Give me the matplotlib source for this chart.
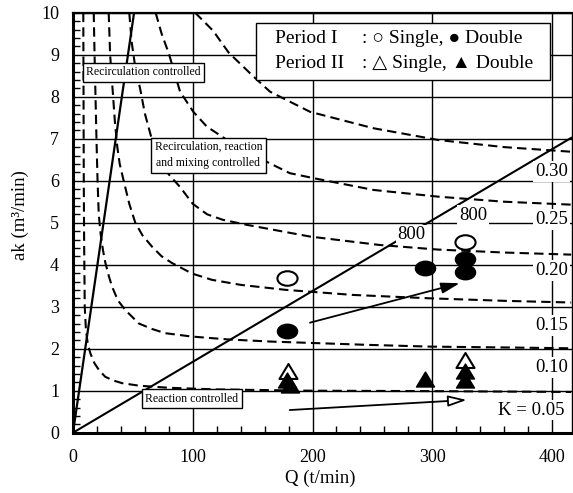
import matplotlib.pyplot as plt
from matplotlib.patches import Rectangle
from matplotlib.path import Path
from matplotlib.ticker import MultipleLocator

plt.rcParams['font.family'] = ['Liberation Serif', 'DejaVu Sans']

# iso-K curves (Q in t/min, ak in m3/min)
q_k05 = [8.6, 8.8, 9.0, 9.3, 9.8, 10.8, 12.3, 14.5, 18, 22, 27, 34, 41, 55, 80, 120, 200, 300, 416]
ak_k05 = [10, 8, 6, 4.5, 3.0, 2.45, 2.12, 1.89, 1.65, 1.48, 1.33, 1.24, 1.18, 1.12, 1.07, 1.03, 1.0, 0.99, 0.97]

q_k10 = [17.3, 18.0, 18.8, 19.6, 20.5, 21.5, 23, 25, 27, 30, 32.6, 37.5, 43.7, 55, 66, 77, 99, 130, 165, 248, 298, 360, 416]
ak_k10 = [10, 9.0, 8.0, 7.0, 6.0, 5.2, 4.75, 4.35, 4.05, 3.72, 3.48, 3.15, 2.92, 2.6, 2.47, 2.37, 2.29, 2.22, 2.17, 2.09, 2.05, 2.03, 2.01]

q_k15 = [29.8, 31, 33.5, 35, 37, 39, 42.3, 47, 52, 58, 66, 74, 82.7, 99.4, 116, 140, 178, 234, 298, 360, 416]
ak_k15 = [10, 9.0, 8.0, 7.4, 6.8, 6.4, 6.0, 5.45, 5.0, 4.7, 4.43, 4.2, 4.04, 3.79, 3.64, 3.52, 3.4, 3.28, 3.2, 3.14, 3.1]

q_k20 = [47, 49, 52, 56, 60, 65.7, 72, 80, 89.4, 100, 112, 125, 145, 198, 256, 305, 360, 416]
ak_k20 = [10, 9.3, 8.7, 8.2, 7.6, 7.0, 6.5, 6.15, 5.85, 5.45, 5.2, 5.07, 4.95, 4.67, 4.47, 4.36, 4.29, 4.24]

q_k25 = [69, 74, 80, 89.4, 100.5, 111.7, 135, 159, 181, 201, 251, 305, 360, 416]
ak_k25 = [10, 9.5, 9.03, 8.12, 7.64, 7.29, 6.85, 6.49, 6.18, 6.06, 5.78, 5.62, 5.5, 5.43]

q_k30 = [102, 109, 117, 130, 150, 164.5, 198, 250.8, 305, 360, 416]
ak_k30 = [10, 9.8, 9.57, 9.05, 8.5, 8.12, 7.64, 7.25, 6.97, 6.8, 6.69]

# boundary lines
q_steep = [0, 51]
ak_steep = [0, 10]
q_800 = [0, 416]
ak_800 = [0, 7.02]

# measurements
q_p1_single = [178.4, 327.3]
ak_p1_single = [3.68, 4.55]
q_p1_double = [178.4, 294, 327.3, 327.3]
ak_p1_double = [2.43, 3.93, 4.13, 3.83]
q_p2_single = [179.8, 327.3]
ak_p2_single = [1.47, 1.73]
q_p2_double = [179, 181, 294, 327.3, 327.3]
ak_p2_double = [1.25, 1.14, 1.29, 1.47, 1.25]

k_text = ['0.30', '0.25', '0.20', '0.15', '0.10', 'K = 0.05']
k_text_q = [399.7, 399.7, 399.7, 399.7, 399.7, 383]
k_text_ak = [6.22, 5.08, 3.87, 2.56, 1.55, 0.54]

fig = plt.figure(figsize=(5.73, 4.93), dpi=100)
ax = fig.add_axes([0.1274, 0.1223, 0.8709, 0.8519])

dash = (4.5, 2.5)
for q, ak in [(q_k05, ak_k05), (q_k10, ak_k10), (q_k15, ak_k15),
              (q_k20, ak_k20), (q_k25, ak_k25), (q_k30, ak_k30)]:
    ax.plot(q, ak, color='k', lw=1.5, dashes=dash)

ax.plot(q_steep, ak_steep, color='k', lw=1.6)
ax.plot(q_800, ak_800, color='k', lw=1.5)

# flattened markers like the scanned ones
ellipse = Path.unit_circle().transformed(
    plt.matplotlib.transforms.Affine2D().scale(1.0, 0.72))
tri = Path([(0, 0.83), (-1, -0.83), (1, -0.83), (0, 0.83)],
           [Path.MOVETO, Path.LINETO, Path.LINETO, Path.CLOSEPOLY])

ax.plot(q_p1_single, ak_p1_single, ls='none', marker=ellipse, ms=14.5,
        mfc='white', mec='k', mew=1.5, zorder=5)
ax.plot(q_p1_double, ak_p1_double, ls='none', marker=ellipse, ms=14.5,
        mfc='k', mec='k', zorder=5)
ax.plot(q_p2_single, ak_p2_single, ls='none', marker=tri, ms=13,
        mfc='white', mec='k', mew=1.5, zorder=5)
ax.plot(q_p2_double, ak_p2_double, ls='none', marker=tri, ms=13,
        mfc='k', mec='k', zorder=6)

# arrows
ax.annotate('', xy=(323, 3.56), xytext=(197.9, 2.62),
            arrowprops=dict(arrowstyle='-|>,head_length=0.75,head_width=0.22',
                            mutation_scale=15, lw=1.3, color='k',
                            shrinkA=0, shrinkB=0), zorder=4)
ax.annotate('', xy=(328.8, 0.78), xytext=(181, 0.54),
            arrowprops=dict(arrowstyle='-|>,head_length=0.75,head_width=0.22',
                            mutation_scale=15, lw=1.3, facecolor='white',
                            edgecolor='k', shrinkA=0, shrinkB=0), zorder=4)

# labels of the K curves
for t, x, y in zip(k_text, k_text_q, k_text_ak):
    ax.text(x, y, t, ha='center', va='center', fontsize=13.5, zorder=4,
            bbox=dict(boxstyle='square,pad=0.1', fc='white', ec='none'))

ax.text(282.8, 4.71, '800', ha='center', va='center', fontsize=13.5, zorder=4,
        bbox=dict(boxstyle='square,pad=0.1', fc='white', ec='none'))
ax.text(334.3, 5.18, '800', ha='center', va='center', fontsize=13.5, zorder=4,
        bbox=dict(boxstyle='square,pad=0.1', fc='white', ec='none'))

# region boxes
box = dict(boxstyle='square,pad=0.3', fc='white', ec='k', lw=1.0)
ax.text(58.7, 8.58, 'Recirculation controlled', ha='center', va='center',
        fontsize=8.5, bbox=box, zorder=4)
ax.text(113, 6.61, 'Recirculation, reaction\nand mixing controlled',
        ha='center', va='center', fontsize=8.5, linespacing=1.45, bbox=box, zorder=4)
ax.text(99, 0.81, 'Reaction controlled', ha='center', va='center',
        fontsize=8.5, bbox=box, zorder=4)

# legend drawn as a text panel
ax.add_patch(Rectangle((152.6, 8.40), 246, 1.35, fc='white', ec='k',
                       lw=1.0, zorder=4))
ax.text(168.7, 9.27, 'Period I', fontsize=14, va='baseline', zorder=5)
ax.text(168.7, 8.68, 'Period II', fontsize=14, va='baseline', zorder=5)
ax.text(241, 9.27, ': \u25cb Single, \u25cf Double', fontsize=14,
        va='baseline', zorder=5)
ax.text(241, 8.68, ': \u25b3 Single, \u25b2 Double', fontsize=14,
        va='baseline', zorder=5)

ax.set_xlim(0, 416.7)
ax.set_ylim(0, 10)
ax.xaxis.set_major_locator(MultipleLocator(100))
ax.xaxis.set_minor_locator(MultipleLocator(20))
ax.yaxis.set_major_locator(MultipleLocator(1))
ax.yaxis.set_minor_locator(MultipleLocator(0.2))
ax.grid(True, which='major', color='k', lw=1.0)
ax.set_axisbelow(True)

ax.tick_params(which='both', direction='in', labelsize=13)
ax.tick_params(which='major', length=0, pad=10)
ax.tick_params(which='minor', length=5, width=1.0)
ax.tick_params(axis='x', which='major', pad=12)

ax.spines['left'].set_linewidth(2.2)
ax.spines['bottom'].set_linewidth(2.2)
ax.spines['top'].set_linewidth(1.6)
ax.spines['right'].set_linewidth(1.0)

ax.set_xlabel('Q (t/min)', fontsize=13.5)
ax.set_ylabel('ak (m\u00b3/min)', fontsize=13.5)
ax.xaxis.set_label_coords(0.495, -0.088)
ax.yaxis.set_label_coords(-0.088, 0.518)

fig.savefig('out.png', dpi=100)
